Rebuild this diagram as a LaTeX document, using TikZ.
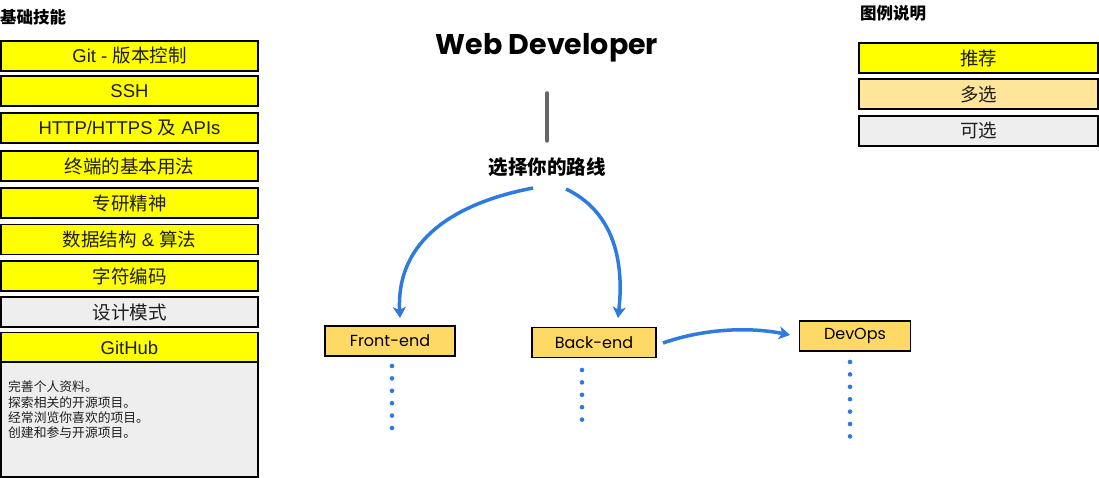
\documentclass[tikz,border=0pt]{standalone}
\usepackage{fontspec}
\setmainfont{Liberation Sans}
\newfontfamily\cjk{Noto Sans CJK SC}
\newfontfamily\hand{Poppins}
\usetikzlibrary{arrows.meta}
\definecolor{yel}{HTML}{FFFF00}
\definecolor{org}{HTML}{FFD966}
\definecolor{lorg}{HTML}{FFE599}
\definecolor{gry}{HTML}{EEEEEE}
\definecolor{blu}{HTML}{2D7BE0}
\definecolor{txt}{HTML}{1E1E1E}
\definecolor{stem}{HTML}{666666}
\begin{document}
\begin{tikzpicture}[x=1pt,y=-1pt,
  skill/.style={draw=black, line width=1.6pt, minimum width=257pt, minimum height=30pt, inner sep=0pt, text=txt, font=\fontsize{18.5}{21}\selectfont},
  rec/.style={skill, fill=yel},
  opt/.style={skill, fill=gry},
  legendbox/.style={skill, minimum width=239pt},
  role/.style={draw=black, line width=1.6pt, fill=org, minimum height=30pt, inner sep=0pt, text=black, font=\hand\fontsize{16}{18}\selectfont},
  heading/.style={font=\cjk\bfseries\fontsize{16.5}{19}\selectfont, inner sep=0pt, anchor=west},
  pathline/.style={draw=blu, line width=3.5pt, -{Stealth[length=11pt,width=13pt,inset=3pt]}},
  dots/.style={draw=blu, line width=4.6pt, line cap=round, dash pattern=on 0pt off 12.4pt}
]
\fill[white] (0,0) rectangle (1099,478);
\useasboundingbox (0,0) rectangle (1099,478);

% headings
\node[heading] (basic) at (0,17) {基础技能};
\node[heading] (legend) at (860,13) {图例说明};

% left column
\node[rec] (git)  at (129.5,56)  {Git - {\cjk 版本控制}};
\node[rec] (ssh)  at (129.5,91)  {SSH};
\node[rec] (http) at (129.5,128) {HTTP/HTTPS {\cjk 及} APIs};
\node[rec] (term) at (129.5,166) {\cjk 终端的基本用法};
\node[rec] (res)  at (129.5,203) {\cjk 专研精神};
\node[rec] (algo) at (129.5,239.5) {{\cjk 数据结构} \& {\cjk 算法}};
\node[rec] (enc)  at (129.5,276) {\cjk 字符编码};
\node[opt] (pat)  at (129.5,312) {\cjk 设计模式};
\node[rec] (gh)   at (129.5,347.5) {GitHub};
\node[opt, minimum height=115pt] (ghbox) at (129.5,419.5) {};
\node[anchor=west, align=left, inner sep=0pt, text=txt,
      font=\cjk\fontsize{12.8}{15.3}\selectfont] (ghtext) at (8,410)
  {完善个人资料。\\探索相关的开源项目。\\经常浏览你喜欢的项目。\\创建和参与开源项目。};

% legend
\node[legendbox, fill=yel]  (l1) at (978.5,58)  {\cjk 推荐};
\node[legendbox, fill=lorg] (l2) at (978.5,94)  {\cjk 多选};
\node[legendbox, fill=gry]  (l3) at (978.5,131) {\cjk 可选};

% center
\node[inner sep=0pt, font=\hand\bfseries\fontsize{28.5}{32}\selectfont] (title) at (547,48) {Web Developer};
\coordinate (v1) at (547,93);
\coordinate (v2) at (547,141);
\draw[stem, line width=3.5pt, line cap=round] (v1) -- (v2);
\node[inner sep=0pt, font=\cjk\bfseries\fontsize{19.5}{22}\selectfont] (choose) at (547,167) {选择你的路线};

\node[role, minimum width=130pt] (fe) at (390,341) {Front-end};
\node[role, minimum width=124pt] (be) at (594,342.5) {Back-end};
\node[role, minimum width=111pt] (dev) at (855,336) {DevOps};

\coordinate (a1s) at (533,188);
\coordinate (a1e) at (400,318);
\coordinate (a2s) at (566,189);
\coordinate (a2e) at (618,318);
\coordinate (a3s) at (663,343);
\coordinate (a3e) at (790,335);
\draw[pathline] (a1s) .. controls (455,203) and (396,240) .. (a1e);
\draw[pathline] (a2s) .. controls (610,210) and (625,255) .. (a2e);
\draw[pathline] (a3s) .. controls (700,330) and (745,326) .. (a3e);

% dotted continuations
\coordinate (d1s) at (392,366);
\coordinate (d1e) at (392,429);
\coordinate (d2s) at (582,370);
\coordinate (d2e) at (582,431);
\coordinate (d3s) at (850,362);
\coordinate (d3e) at (850,437);
\draw[dots] (d1s) -- (d1e);
\draw[dots] (d2s) -- (d2e);
\draw[dots] (d3s) -- (d3e);
\end{tikzpicture}
\end{document}
